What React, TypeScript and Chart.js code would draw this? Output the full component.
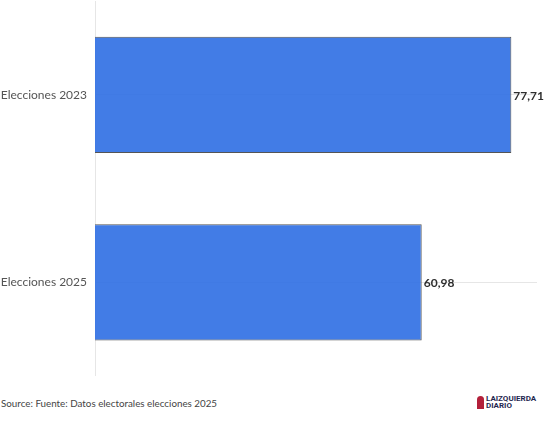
import React, { useEffect, useRef } from "react";
import { Chart, registerables } from "chart.js";

Chart.register(...registerables);

const categories = ["Elecciones 2023", "Elecciones 2025"];
const values = [77.71, 60.98];
const xMax = 82.5;
const sourceText = "Source: Fuente: Datos electorales elecciones 2025";

const fmt = (v: number) => v.toFixed(2).replace(".", ",");

const valueLabels = {
  id: "valueLabels",
  afterDatasetsDraw(chart: any) {
    const ctx = chart.ctx;
    const meta = chart.getDatasetMeta(0);
    ctx.save();
    ctx.font = "bold 12px Lato, sans-serif";
    ctx.fillStyle = "#2e2e2e";
    ctx.textAlign = "left";
    ctx.textBaseline = "middle";
    meta.data.forEach((el: any, i: number) => {
      ctx.fillText(fmt(values[i]), el.x + 2, el.y + 1);
    });
    ctx.restore();
  },
};

export default function App() {
  const ref = useRef<HTMLCanvasElement>(null);
  useEffect(() => {
    if (!ref.current) return;
    const chart = new Chart(ref.current, {
      type: "bar",
      data: {
        labels: categories,
        datasets: [
          {
            data: values,
            backgroundColor: "rgba(50,113,228,0.92)",
            borderColor: "#555555",
            borderWidth: 1,
            barPercentage: 0.62,
            categoryPercentage: 1,
          },
        ],
      },
      options: {
        indexAxis: "y",
        animation: false,
        responsive: false,
        maintainAspectRatio: false,
        layout: { padding: { top: 1, right: 14, bottom: 0, left: 0 } },
        plugins: { legend: { display: false }, tooltip: { enabled: false } },
        scales: {
          x: {
            display: false,
            min: 0,
            max: xMax,
          },
          y: {
            afterFit(scale: any) {
              scale.width = 95;
              scale.paddingTop = 0;
              scale.paddingBottom = 0;
            },
            grid: {
              offset: false,
              color: "#e6e6e6",
              drawTicks: false,
            },
            border: { display: true, color: "#e6e6e6" },
            ticks: {
              padding: 8,
              color: "#555555",
              font: { family: "Lato, sans-serif", size: 12 },
            },
          },
        },
      },
      plugins: [valueLabels],
    });
    return () => chart.destroy();
  }, []);

  return (
    <div
      style={{
        position: "absolute",
        left: 0,
        top: 0,
        width: 551,
        height: 426,
        background: "#fff",
      }}
    >
      <canvas ref={ref} width={551} height={376} style={{ display: "block" }} />
      <div
        style={{
          position: "absolute",
          left: 1,
          top: 397,
          fontFamily: "Lato, sans-serif",
          fontSize: 9.8,
          color: "#444",
        }}
      >
        {sourceText}
      </div>
      <div
        style={{
          position: "absolute",
          left: 477,
          top: 395,
          display: "flex",
          alignItems: "center",
        }}
      >
        <div
          style={{
            width: 7,
            height: 13,
            background: "#b3203a",
            borderRadius: "4px 4px 0 0",
            marginRight: 2,
          }}
        />
        <div
          style={{
            fontFamily: "'Liberation Sans Narrow', 'Roboto', sans-serif",
            fontWeight: "bold",
            fontSize: 8,
            lineHeight: "7px",
            color: "#1f2850",
          }}
        >
          <div>LAIZQUIERDA</div>
          <div>DIARIO</div>
        </div>
      </div>
    </div>
  );
}
